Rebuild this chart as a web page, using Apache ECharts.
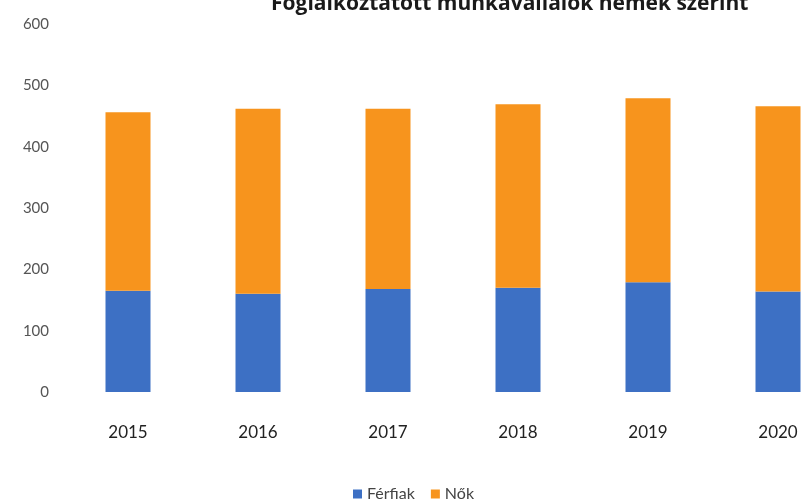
<!DOCTYPE html>
<html><head><meta charset="utf-8">
<script src="https://cdn.jsdelivr.net/npm/echarts@6/dist/echarts.min.js"></script>
<style>html,body{margin:0;padding:0;background:#fff;overflow:hidden;width:804px;height:501px}#c{width:846px;height:501px}</style>
</head><body><div id="c"></div>
<script>
const years = ['2015','2016','2017','2018','2019','2020'];
const ferfiak = [165, 160, 168, 170, 179, 164];
const nok = [291, 302, 294, 299, 300, 302];
const yTicks = [0, 100, 200, 300, 400, 500, 600];
const titleText = 'Foglalkoztatott munkavállalók nemek szerint';

const chart = echarts.init(document.getElementById('c'), null, {renderer:'canvas'});
chart.setOption({
  animation: false,
  backgroundColor: '#ffffff',
  title: {
    text: titleText, left: 266, top: -11,
    textStyle: {fontFamily: 'Open Sans', fontWeight: 'bold', fontSize: 21, color: '#1a1a1a'}
  },
  legend: {
    data: ['Férfiak', 'Nők'], left: 348, top: 481, icon: 'rect',
    itemWidth: 9, itemHeight: 9, itemGap: 16,
    textStyle: {fontFamily: 'Lato', fontSize: 16, color: '#444'}
  },
  grid: {left: 63, top: 24, width: 780, height: 368},
  xAxis: {
    type: 'category', data: years,
    axisLine: {show: false}, axisTick: {show: false},
    axisLabel: {margin: 32, fontFamily: 'Lato', fontSize: 17, color: '#222'}
  },
  yAxis: {
    type: 'value', min: yTicks[0], max: yTicks[yTicks.length-1], interval: 100,
    splitLine: {show: false}, axisLine: {show: false}, axisTick: {show: false},
    axisLabel: {margin: 14, fontFamily: 'Lato', fontSize: 15, color: '#555'}
  },
  series: [
    {name: 'Férfiak', type: 'bar', stack: 't', data: ferfiak, barWidth: 45,
     itemStyle: {color: '#3D70C4'}},
    {name: 'Nők', type: 'bar', stack: 't', data: nok, barWidth: 45,
     itemStyle: {color: '#F7941D'}}
  ]
});
</script></body></html>
